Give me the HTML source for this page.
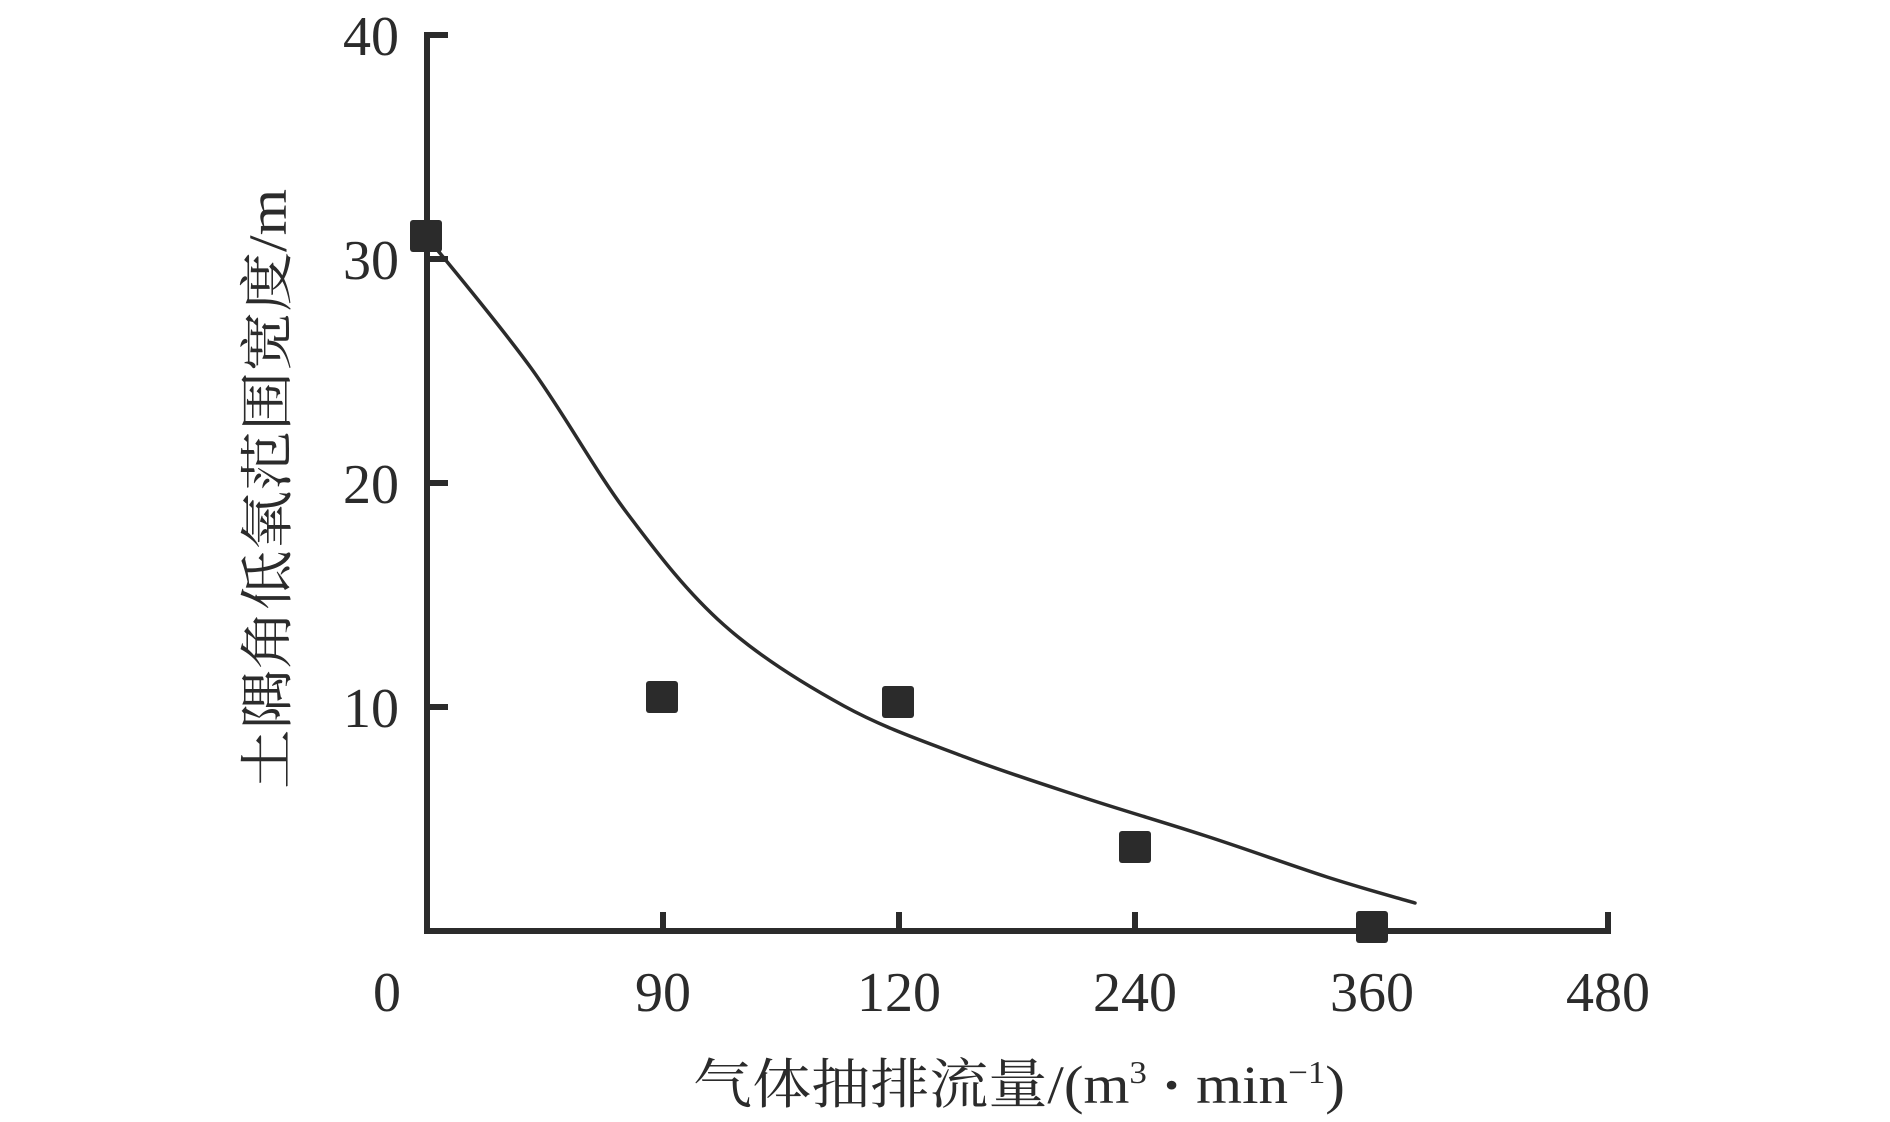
<!DOCTYPE html>
<html><head><meta charset="utf-8"><style>html,body{margin:0;padding:0;background:#fff}svg{display:block}</style></head>
<body>
<svg width="1890" height="1122" viewBox="0 0 1890 1122" xmlns="http://www.w3.org/2000/svg">
<g stroke="#2b2b2b" stroke-width="6" fill="none" stroke-linecap="square">
<line x1="427" y1="35" x2="427" y2="931"/>
<line x1="427" y1="931" x2="1608" y2="931"/>
<line x1="427" y1="35" x2="445" y2="35"/>
<line x1="427" y1="259" x2="445" y2="259"/>
<line x1="427" y1="483" x2="445" y2="483"/>
<line x1="427" y1="707" x2="445" y2="707"/>
<line x1="663" y1="915" x2="663" y2="931"/>
<line x1="899" y1="915" x2="899" y2="931"/>
<line x1="1135" y1="915" x2="1135" y2="931"/>
<line x1="1372" y1="915" x2="1372" y2="931"/>
<line x1="1608" y1="915" x2="1608" y2="931"/>
</g>
<path d="M426,236 C443.5,258 497.5,321.8 531,368 C564.5,414.2 594.8,470.2 627,513 C659.2,555.8 687.8,592.8 724,625 C760.2,657.2 803.8,684 844,706 C884.2,728 924.8,741.7 965,757 C1005.2,772.3 1044.8,784.8 1085,798 C1125.2,811.2 1165.7,822.8 1206,836 C1246.3,849 1292.2,865.8 1327,877 C1361.8,888.2 1400.3,898.7 1415,903" stroke="#2b2b2b" stroke-width="3.5" fill="none" stroke-linecap="round"/>
<g fill="#2b2b2b">
<rect x="410" y="220" width="32" height="32" rx="3"/>
<rect x="646" y="681" width="32" height="32" rx="3"/>
<rect x="882" y="686" width="32" height="32" rx="3"/>
<rect x="1119" y="831" width="32" height="32" rx="3"/>
<rect x="1356" y="911" width="32" height="32" rx="3"/>
</g>
<g font-family="'Liberation Serif',serif" font-size="56" fill="#2b2b2b">
<g text-anchor="end">
<text x="399" y="55">40</text>
<text x="399" y="279">30</text>
<text x="399" y="503">20</text>
<text x="399" y="727">10</text>
</g>
<g text-anchor="middle">
<text x="387" y="1011">0</text>
<text x="663" y="1011">90</text>
<text x="899" y="1011">120</text>
<text x="1135" y="1011">240</text>
<text x="1372" y="1011">360</text>
<text x="1608" y="1011">480</text>
</g>
</g>
<text x="1019" y="1103" text-anchor="middle" font-family="'Liberation Serif','Noto Serif CJK SC',serif" font-size="54" fill="#2b2b2b" textLength="652" lengthAdjust="spacingAndGlyphs">气体抽排流量/(m<tspan font-size="32" dy="-20">3</tspan><tspan dy="20" font-weight="bold"> · </tspan><tspan>min</tspan><tspan font-size="32" dy="-20">−1</tspan><tspan dy="20">)</tspan></text>
<text transform="translate(286,489) rotate(-90)" text-anchor="middle" font-family="'Liberation Serif','Noto Serif CJK SC',serif" font-size="54" fill="#2b2b2b" textLength="600" lengthAdjust="spacingAndGlyphs">土隅角低氧范围宽度/m</text>
</svg>
</body></html>
